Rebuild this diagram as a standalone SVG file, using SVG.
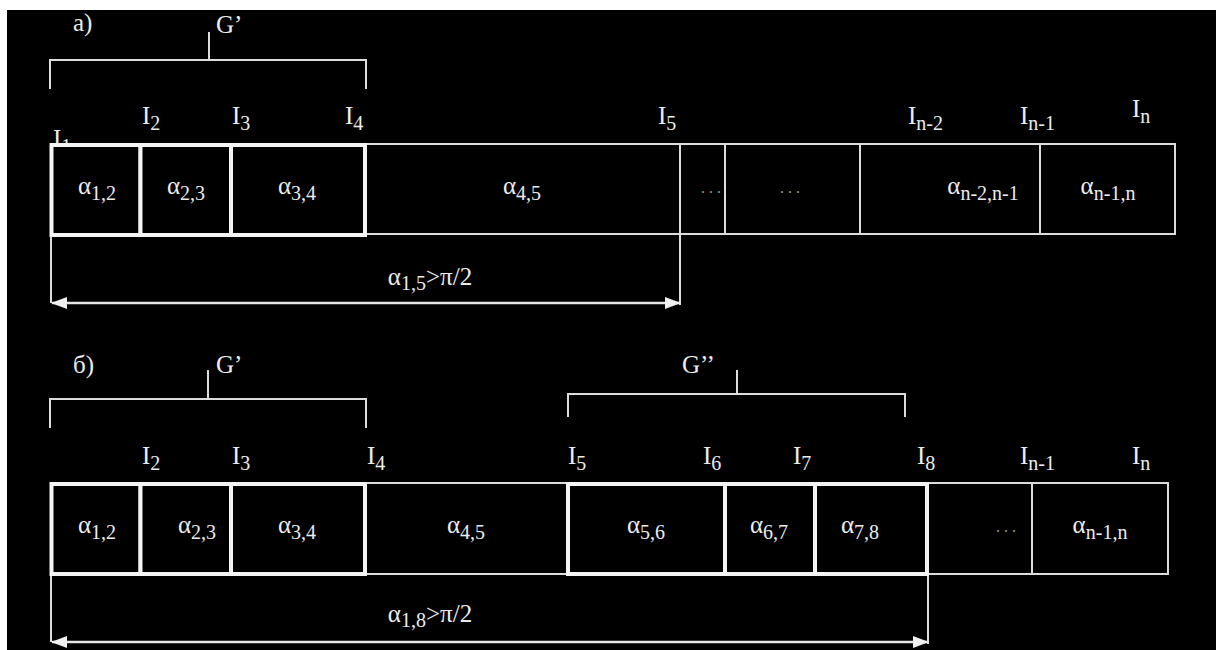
<svg xmlns="http://www.w3.org/2000/svg" width="1216" height="650" viewBox="0 0 1216 650">
<defs>
<style>
text{font-family:"Liberation Serif","DejaVu Serif",serif;fill:#ececec;font-size:25px}
.c{text-anchor:middle}
.s{font-size:20px}
.dots{font-size:16px;fill:#9a9a9a}
.thin{fill:#000;stroke:#dcdcdc;stroke-width:2}
.thick{fill:#000;stroke:#f4f4f4;stroke-width:4}
.ln{stroke:#dcdcdc;stroke-width:2;fill:none}
.ar{stroke:#e6e6e6;stroke-width:2.5;fill:none;marker-start:url(#ah);marker-end:url(#ah)}
</style>
<marker id="ah" viewBox="0 0 16 12" refX="15" refY="6" markerWidth="16" markerHeight="12" markerUnits="userSpaceOnUse" orient="auto-start-reverse">
<path d="M0,0 L16,6 L0,12 Z" fill="#f0f0f0"/>
</marker>
</defs>
<rect x="0" y="0" width="1216" height="650" fill="#ffffff"/>
<rect x="7" y="10" width="1209" height="640" fill="#000000"/>

<!-- Part a -->
<g id="labels-a">
<text x="73" y="31">a)</text>
<text x="216" y="33">G’</text>
<text x="53" y="147">I<tspan class="s" dy="6">1</tspan></text>
<text x="142" y="124">I<tspan class="s" dy="6">2</tspan></text>
<text x="232" y="124">I<tspan class="s" dy="6">3</tspan></text>
<text x="345" y="124">I<tspan class="s" dy="6">4</tspan></text>
<text x="658" y="124">I<tspan class="s" dy="6">5</tspan></text>
<text x="908" y="124">I<tspan class="s" dy="6">n-2</tspan></text>
<text x="1020" y="124">I<tspan class="s" dy="6">n-1</tspan></text>
<text x="1132" y="117">I<tspan class="s" dy="6">n</tspan></text>
</g>

<g id="strip-a">
<rect class="thin" x="365" y="144" width="810" height="90"/>
<line class="ln" x1="680" y1="144" x2="680" y2="234"/>
<line class="ln" x1="725" y1="144" x2="725" y2="234"/>
<line class="ln" x1="860" y1="144" x2="860" y2="234"/>
<line class="ln" x1="1040" y1="144" x2="1040" y2="234"/>
</g>
<g id="a-cell-12"><rect class="thick" x="51.5" y="145" width="89" height="90"/><text class="c" x="97" y="194">α<tspan class="s" dy="6">1,2</tspan></text></g>
<g id="a-cell-23"><rect class="thick" x="140.5" y="145" width="90.5" height="90"/><text class="c" x="186" y="194">α<tspan class="s" dy="6">2,3</tspan></text></g>
<g id="a-cell-34"><rect class="thick" x="231" y="145" width="134" height="90"/><text class="c" x="297" y="194">α<tspan class="s" dy="6">3,4</tspan></text></g>
<g id="a-cell-45"><text class="c" x="522" y="194">α<tspan class="s" dy="6">4,5</tspan></text></g>
<g id="a-cell-dots1"><text class="c dots" x="711" y="193">. . .</text></g>
<g id="a-cell-dots2"><text class="c dots" x="790" y="193">. . .</text></g>
<g id="a-cell-n2"><text class="c" x="983" y="194">α<tspan class="s" dy="6">n-2,n-1</tspan></text></g>
<g id="a-cell-n1"><text class="c" x="1108" y="194">α<tspan class="s" dy="6">n-1,n</tspan></text></g>
<g id="a-span"><text class="c" x="430" y="285">α<tspan class="s" dy="5">1,5</tspan><tspan dy="-5">&gt;π/2</tspan></text></g>

<!-- Part b -->
<g id="labels-b">
<text x="73" y="373">б)</text>
<text x="216" y="373">G’</text>
<text x="682" y="373">G’’</text>
<text x="142" y="464">I<tspan class="s" dy="6">2</tspan></text>
<text x="232" y="464">I<tspan class="s" dy="6">3</tspan></text>
<text x="367" y="464">I<tspan class="s" dy="6">4</tspan></text>
<text x="568" y="464">I<tspan class="s" dy="6">5</tspan></text>
<text x="703" y="464">I<tspan class="s" dy="6">6</tspan></text>
<text x="793" y="464">I<tspan class="s" dy="6">7</tspan></text>
<text x="917" y="464">I<tspan class="s" dy="6">8</tspan></text>
<text x="1020" y="464">I<tspan class="s" dy="6">n-1</tspan></text>
<text x="1132" y="464">I<tspan class="s" dy="6">n</tspan></text>
</g>

<g id="strip-b">
<rect class="thin" x="365" y="483" width="803" height="91"/>
<line class="ln" x1="1032" y1="483" x2="1032" y2="574"/>
</g>
<g id="b-cell-12"><rect class="thick" x="51.5" y="484" width="89" height="90"/><text class="c" x="97" y="533">α<tspan class="s" dy="6">1,2</tspan></text></g>
<g id="b-cell-23"><rect class="thick" x="140.5" y="484" width="90.5" height="90"/><text class="c" x="197" y="533">α<tspan class="s" dy="6">2,3</tspan></text></g>
<g id="b-cell-34"><rect class="thick" x="231" y="484" width="134" height="90"/><text class="c" x="297" y="533">α<tspan class="s" dy="6">3,4</tspan></text></g>
<g id="b-cell-45"><text class="c" x="466" y="533">α<tspan class="s" dy="6">4,5</tspan></text></g>
<g id="b-cell-56"><rect class="thick" x="568" y="484" width="157" height="90"/><text class="c" x="646" y="533">α<tspan class="s" dy="6">5,6</tspan></text></g>
<g id="b-cell-67"><rect class="thick" x="725" y="484" width="90" height="90"/><text class="c" x="769" y="533">α<tspan class="s" dy="6">6,7</tspan></text></g>
<g id="b-cell-78"><rect class="thick" x="815" y="484" width="112" height="90"/><text class="c" x="860" y="533">α<tspan class="s" dy="6">7,8</tspan></text></g>
<g id="b-cell-dots"><text class="c dots" x="1006" y="532">. . .</text></g>
<g id="b-cell-n1"><text class="c" x="1100" y="533">α<tspan class="s" dy="6">n-1,n</tspan></text></g>
<g id="b-span"><text class="c" x="430" y="622">α<tspan class="s" dy="5">1,8</tspan><tspan dy="-5">&gt;π/2</tspan></text></g>

<g id="connectors">
<path class="ln" d="M209,32 V60 M50,89 V60 H366 V89"/>
<path class="ln" d="M208,370 V399 M50,428 V399 H366 V428"/>
<path class="ln" d="M737,370 V394 M568,417 V394 H905 V417"/>
<path class="ln" d="M51,236 V303 M680,234 V305"/>
<path class="ln" d="M51,576 V642 M928,576 V644"/>
<line class="ar" x1="52" y1="303" x2="680" y2="303"/>
<line class="ar" x1="52" y1="642" x2="928" y2="642"/>
</g>
</svg>
